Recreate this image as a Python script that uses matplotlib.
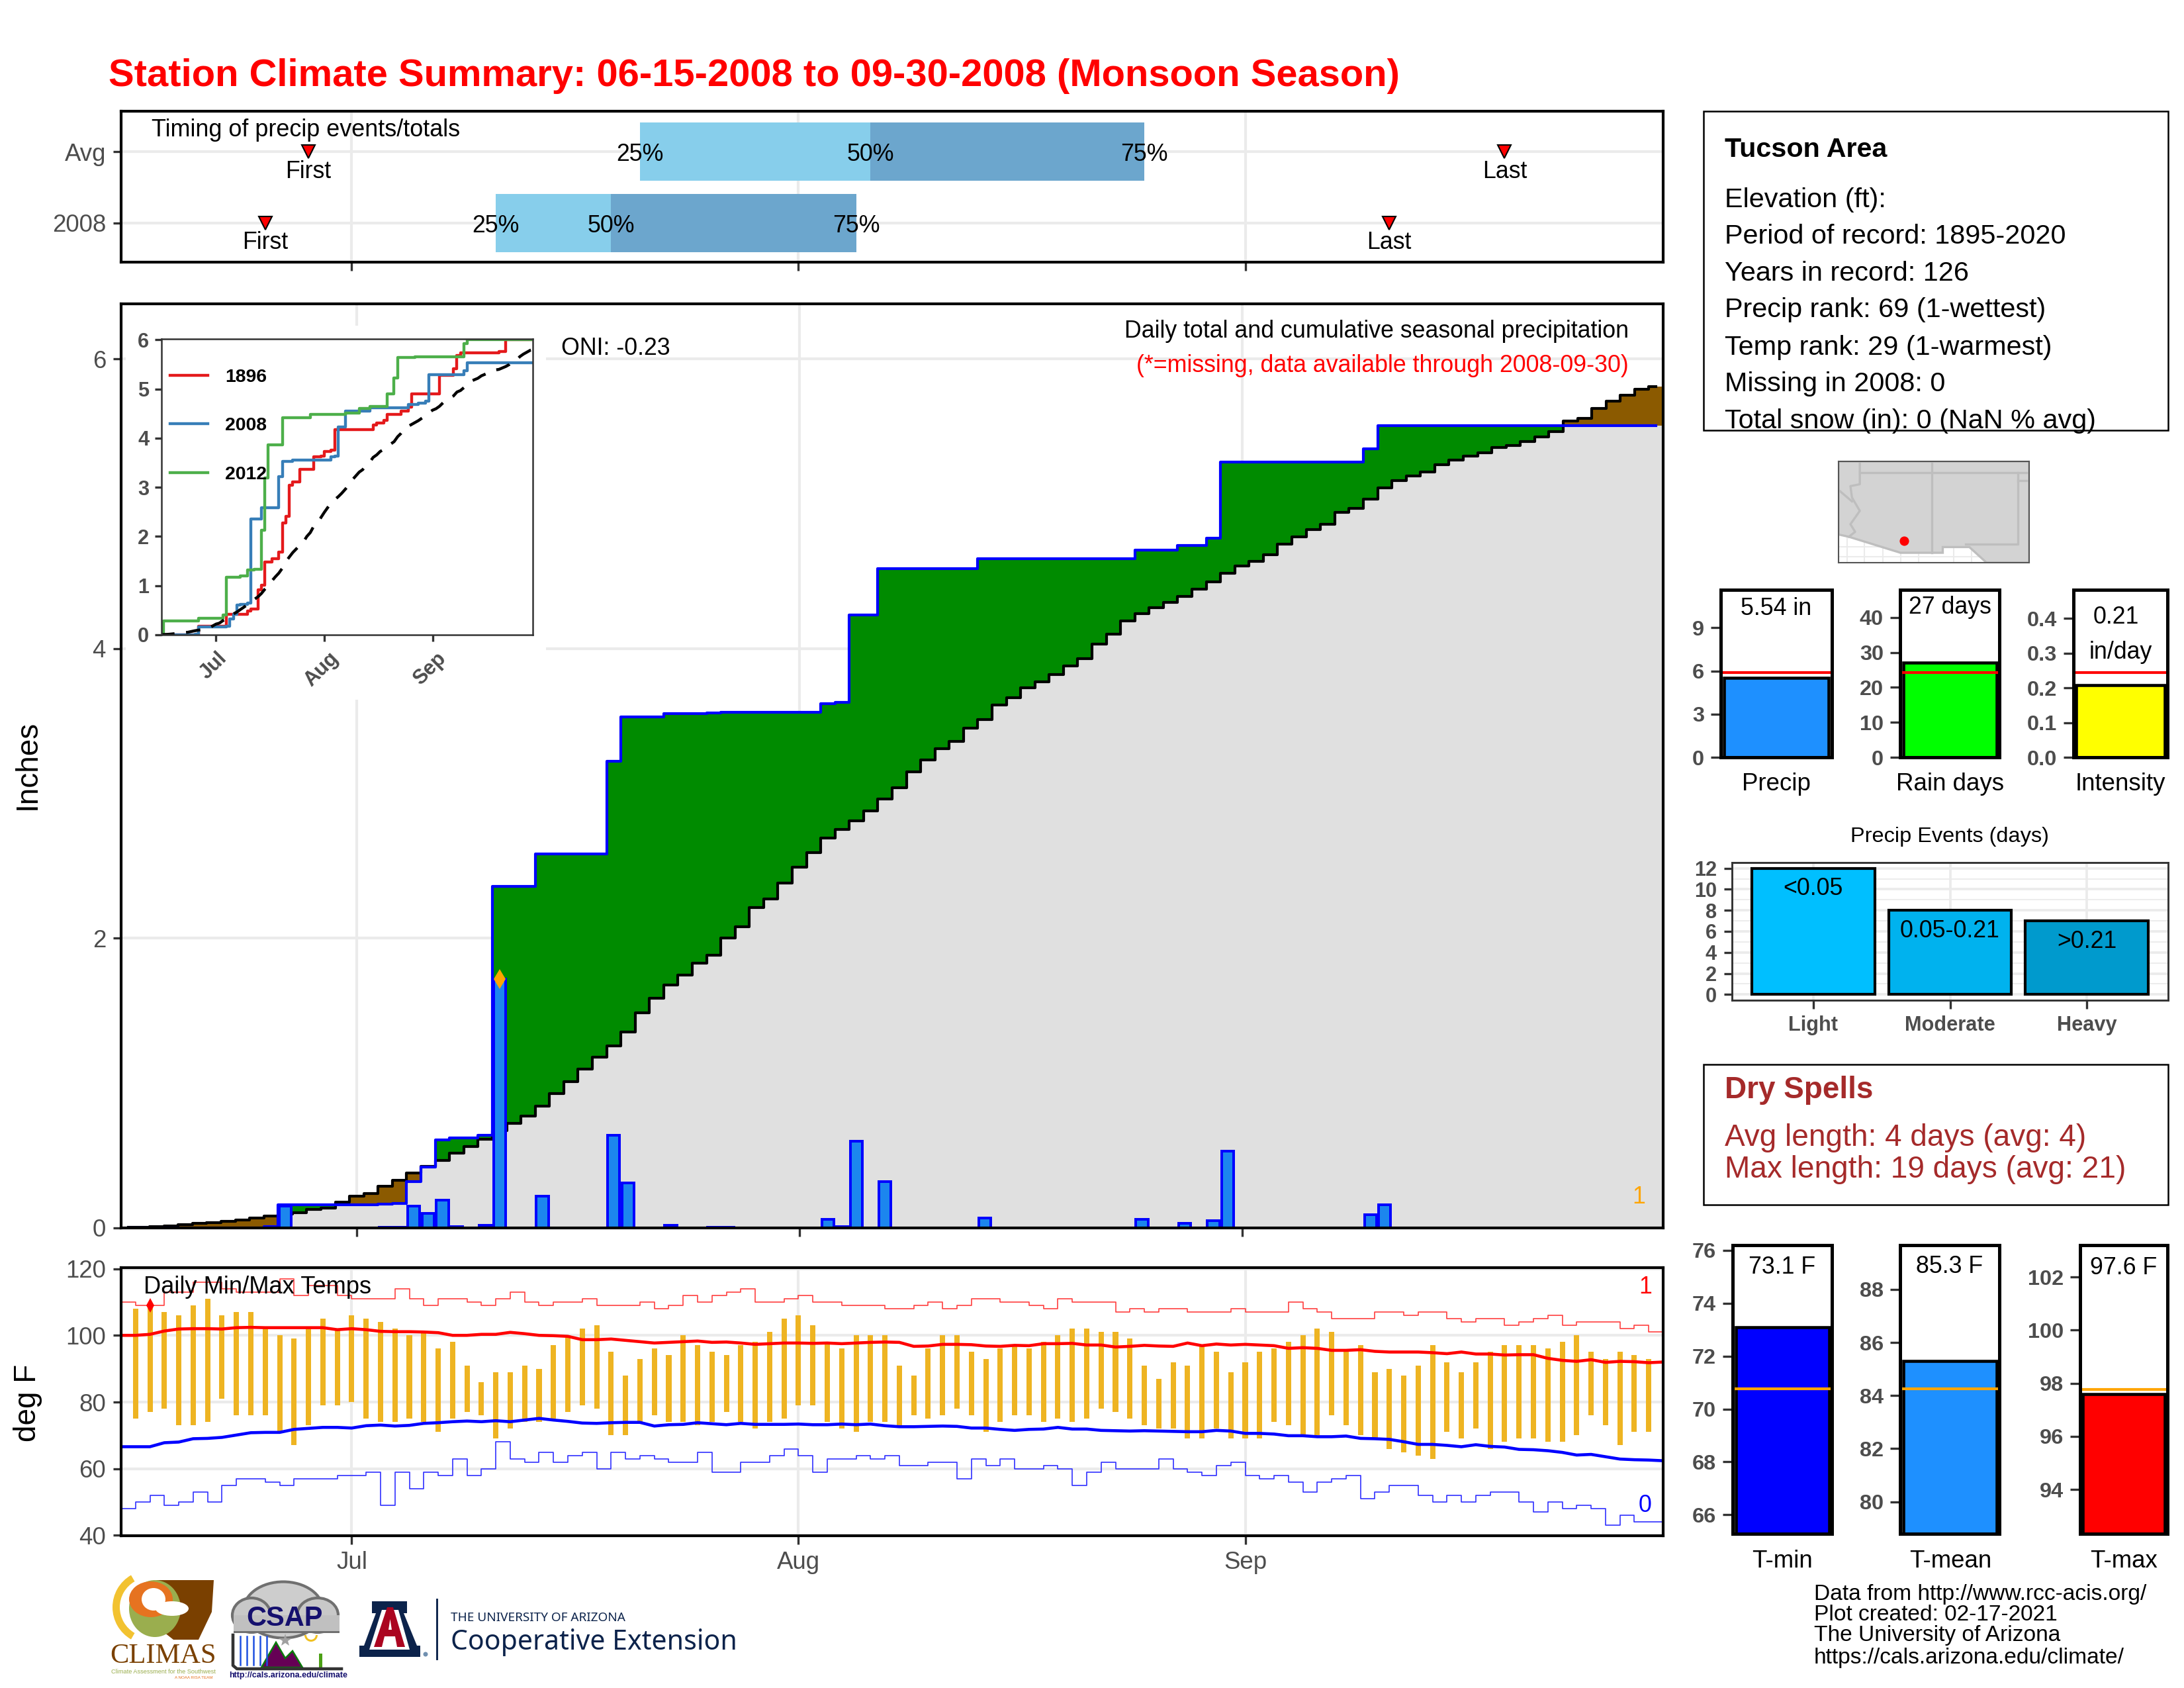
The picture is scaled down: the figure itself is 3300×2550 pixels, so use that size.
"""Station climate summary page, one figure with several small panels."""

import matplotlib
matplotlib.use("Agg")
import matplotlib.pyplot as plt
import numpy as np
from matplotlib.patches import Circle, Ellipse, Polygon, Rectangle, Wedge
from matplotlib.transforms import ScaledTranslation

plt.rcParams["font.family"] = ["Liberation Sans", "DejaVu Sans"]

W, H = 3300, 2550
GREY_TXT = "#4D4D4D"
GRID = "#EBEBEB"

# season days: 0 = Jun 15 ... 107 = Sep 30
days = np.arange(108)
month_days = [16, 47, 78]
month_labels = ["Jul", "Aug", "Sep"]

# timing bars (days into the season)
timing_labels = ["2008", "Avg"]
first_event = [10, 13]
last_event = [88, 96]
pct25 = [26, 36]
pct50 = [34, 52]
pct75 = [51, 71]

# 2008 daily precip (inches), only the wet days
wet_days = [10, 11, 18, 19, 20, 21, 22, 23, 25, 26, 29, 34, 35, 38, 41, 42, 49, 50,
            51, 53, 60, 71, 74, 76, 77, 87, 88]
wet_amounts = [0.01, 0.15, 0.005, 0.005, 0.15, 0.10, 0.19, 0.01, 0.02, 1.72, 0.22,
               0.64, 0.31, 0.02, 0.005, 0.005, 0.06, 0.01, 0.60, 0.32, 0.07, 0.06,
               0.03, 0.05, 0.53, 0.09, 0.16]

# long term average cumulative precip (inches)
avg_cum = [0.003, 0.006, 0.009, 0.015, 0.023, 0.03, 0.038, 0.046, 0.053, 0.069,
           0.084, 0.096, 0.104, 0.13, 0.137, 0.178, 0.218, 0.239, 0.289, 0.327,
           0.381, 0.426, 0.464, 0.515, 0.563, 0.614, 0.67, 0.723, 0.772, 0.84,
           0.929, 1.008, 1.096, 1.18, 1.256, 1.355, 1.485, 1.584, 1.675, 1.748,
           1.827, 1.885, 2.0, 2.08, 2.21, 2.27, 2.38, 2.49, 2.59, 2.69,
           2.75, 2.81, 2.88, 2.96, 3.04, 3.15, 3.23, 3.31, 3.36, 3.45,
           3.51, 3.61, 3.66, 3.73, 3.77, 3.82, 3.88, 3.93, 4.03, 4.10,
           4.19, 4.24, 4.28, 4.32, 4.36, 4.41, 4.46, 4.52, 4.57, 4.60,
           4.65, 4.72, 4.77, 4.82, 4.86, 4.94, 4.97, 5.03, 5.11, 5.16,
           5.19, 5.22, 5.27, 5.30, 5.33, 5.35, 5.39, 5.40, 5.43, 5.46,
           5.50, 5.57, 5.59, 5.66, 5.71, 5.75, 5.79, 5.81]

# inset: the other years, as (day of change, running total)
days_1896 = [0, 11, 19, 25, 26, 28, 29, 30, 32, 34, 35, 36, 37, 38, 40, 44, 46, 47, 49,
             50, 61, 62, 64, 65, 69, 71, 72, 80, 84, 85, 86, 97, 99, 107]
cum_1896 = [0.0, 0.18, 0.42, 0.49, 0.52, 0.92, 1.01, 1.48, 1.55, 1.68, 2.27, 2.41, 3.05,
            3.11, 3.37, 3.62, 3.64, 3.73, 3.76, 4.17, 4.27, 4.31, 4.37, 4.49, 4.55,
            4.63, 4.90, 5.28, 5.42, 5.69, 5.74, 5.77, 6.0, 6.0]
days_2012 = [0, 1, 11, 18, 19, 23, 25, 27, 29, 30, 31, 35, 43, 53, 57, 60, 65, 67, 68,
             73, 87, 88, 107]
cum_2012 = [0.0, 0.28, 0.33, 0.40, 1.17, 1.20, 1.32, 1.34, 2.13, 3.19, 3.86, 4.42, 4.48,
            4.51, 4.60, 4.65, 4.90, 5.22, 5.64, 5.65, 5.93, 6.0, 6.0]

# daily temperature bars, deg F, for days 1..106
tmax = [108, 109, 107, 106, 109, 111, 106, 107, 107, 102, 100, 99, 102, 105, 102, 106,
        105, 104, 102, 100, 101, 96, 98, 91, 86, 89, 89, 91, 90, 97, 100, 102, 103, 95,
        88, 93, 96, 94, 100, 97, 95, 94, 97, 98, 101, 105, 106, 103, 98, 96, 100, 100,
        100, 91, 88, 96, 100, 100, 95, 93, 96, 97, 96, 98, 100, 102, 102, 101, 101, 99,
        91, 87, 92, 91, 97, 95, 89, 92, 95, 96, 98, 100, 102, 101, 95, 97, 89, 90, 88,
        91, 97, 92, 89, 92, 95, 97, 97, 97, 96, 98, 100, 95, 93, 95, 94, 93]
tmin = [75, 77, 78, 73, 73, 74, 81, 76, 76, 76, 71, 67, 73, 79, 79, 80, 75, 74, 74, 75,
        74, 71, 75, 77, 76, 69, 72, 74, 74, 75, 77, 79, 78, 70, 70, 74, 76, 74, 74, 73,
        74, 77, 74, 72, 74, 75, 79, 79, 74, 72, 71, 74, 74, 73, 76, 75, 76, 78, 76, 71,
        74, 76, 76, 74, 75, 74, 75, 78, 77, 75, 73, 72, 72, 69, 69, 72, 69, 69, 69, 74,
        73, 70, 70, 76, 73, 70, 69, 66, 65, 64, 63, 71, 69, 72, 66, 68, 69, 69, 68, 68,
        70, 76, 73, 67, 71, 71]

normal_high = [100.0, 100.0, 100.3, 101.3, 101.9, 102.0, 102.0, 101.9, 102.3, 102.4,
               102.3, 102.3, 102.3, 102.3, 102.3, 101.7, 102.0, 101.7, 101.2, 101.1,
               101.1, 101.0, 100.8, 100.0, 100.0, 100.3, 100.3, 100.9, 100.5, 100.0,
               99.9, 99.7, 98.7, 98.7, 98.9, 98.5, 98.1, 97.7, 97.9, 98.1,
               98.3, 97.9, 98.0, 97.7, 97.3, 97.5, 97.7, 97.7, 97.6, 97.7,
               97.5, 97.7, 97.9, 98.0, 97.9, 96.7, 96.8, 97.3, 97.3, 97.2,
               96.8, 96.7, 97.0, 96.9, 97.5, 97.5, 97.6, 97.1, 97.1, 96.5,
               96.7, 97.0, 96.8, 96.7, 97.7, 96.9, 97.4, 97.1, 97.3, 97.1,
               96.9, 96.1, 96.3, 96.1, 95.5, 95.5, 95.7, 95.2, 95.0, 95.0,
               95.0, 94.8, 94.5, 95.0, 94.4, 94.4, 94.1, 94.2, 94.2, 93.1,
               92.5, 92.2, 92.7, 91.9, 92.2, 92.1, 91.8, 92.0]
normal_low = [66.6, 66.6, 66.6, 67.8, 68.0, 69.0, 69.1, 69.4, 70.1, 70.8,
              70.9, 70.9, 71.8, 72.1, 72.4, 72.4, 72.2, 72.9, 73.1, 72.8,
              73.0, 73.6, 73.8, 74.1, 74.3, 74.1, 74.4, 74.1, 74.6, 75.1,
              74.6, 74.2, 73.7, 73.6, 73.8, 73.9, 73.9, 72.8, 73.2, 73.3,
              73.8, 73.5, 73.2, 73.6, 73.3, 73.3, 73.3, 73.4, 73.2, 73.2,
              73.4, 73.2, 73.4, 72.9, 72.6, 72.6, 72.7, 72.8, 72.7, 72.2,
              72.2, 71.8, 71.5, 71.8, 71.9, 72.4, 71.9, 71.9, 71.5, 71.4,
              71.3, 71.4, 71.3, 71.2, 71.1, 71.1, 71.5, 71.3, 70.6, 70.6,
              70.4, 69.9, 69.9, 69.6, 69.6, 69.8, 69.1, 69.0, 68.8, 68.1,
              67.3, 67.3, 67.0, 66.6, 67.2, 66.7, 66.5, 65.8, 65.7, 65.4,
              64.9, 64.1, 64.3, 63.6, 62.9, 62.7, 62.6, 62.4]
record_high = [110, 109, 109, 113, 113, 116, 116, 114, 113, 113, 113, 117, 112, 115, 115,
               112, 111, 111, 111, 114, 111, 109, 111, 111, 110, 109, 111, 113, 110, 109,
               110, 110, 111, 109, 109, 109, 110, 108, 109, 112, 110, 112, 113, 114, 110,
               110, 111, 112, 110, 110, 109, 109, 109, 108, 108, 109, 110, 108, 109, 111,
               111, 110, 110, 109, 108, 111, 110, 110, 110, 107, 108, 107, 108, 108, 107,
               107, 107, 108, 107, 107, 107, 110, 108, 107, 105, 105, 105, 107, 107, 106,
               107, 107, 105, 104, 105, 105, 103, 104, 105, 106, 103, 104, 104, 104, 102,
               103, 101, 101]
record_low = [48, 50, 52, 49, 50, 53, 50, 55, 57, 57, 56, 55, 57, 57, 57, 58, 58, 59, 49,
              59, 54, 59, 58, 63, 58, 60, 68, 63, 62, 65, 62, 64, 65, 60, 65, 63, 64, 63,
              62, 62, 65, 59, 59, 62, 62, 64, 66, 64, 59, 63, 63, 64, 63, 64, 61, 61, 62,
              62, 57, 63, 61, 63, 60, 60, 61, 60, 55, 59, 62, 60, 60, 60, 63, 60, 59, 58,
              61, 62, 58, 57, 58, 56, 53, 56, 57, 58, 51, 53, 55, 55, 52, 50, 52, 50, 52,
              53, 53, 50, 47, 50, 48, 49, 48, 43, 46, 44, 44, 44]

# gauge panels: value, seasonal average
precip_val, precip_avg = 5.54, 5.9
raindays_val, raindays_avg = 27, 24.3
intensity_val, intensity_avg = 0.207, 0.243
tmin_val, tmin_avg = 73.1, 70.76
tmean_val, tmean_avg = 85.3, 84.25
tmaxg_val, tmaxg_avg = 97.6, 97.76

event_labels = ["Light", "Moderate", "Heavy"]
event_counts = [12, 8, 7]
event_ranges = ["<0.05", "0.05-0.21", ">0.21"]
event_colors = ["#00BFFF", "#00B2EE", "#009ACD"]

info_lines = ["Elevation (ft):", "Period of record: 1895-2020", "Years in record: 126",
              "Precip rank: 69 (1-wettest)", "Temp rank: 29 (1-warmest)",
              "Missing in 2008: 0", "Total snow (in): 0 (NaN % avg)"]
footer_lines = ["Data from http://www.rcc-acis.org/", "Plot created: 02-17-2021",
                "The University of Arizona", "https://cals.arizona.edu/climate/"]


def panel(left, top, right, bottom, **kwargs):
    """Add axes from a box given in image pixels (y down)."""
    return fig.add_axes([left / W, 1 - bottom / H, (right - left) / W, (bottom - top) / H],
                        **kwargs)


def style_ticks(ax, size=9, bold=False, length=3, pad=2.5):
    ax.tick_params(colors="#333333", labelcolor=GREY_TXT, labelsize=size, length=length,
                   width=0.8, pad=pad)
    if bold:
        for lab in ax.get_xticklabels() + ax.get_yticklabels():
            lab.set_fontweight("bold")


def month_axis(ax, labels=False):
    ax.set_xticks(month_days)
    ax.set_xticklabels(month_labels if labels else [])


def frame(ax, lw=1.0, color="black"):
    for sp in ax.spines.values():
        sp.set_linewidth(lw)
        sp.set_color(color)
        sp.set_zorder(20)


def gauge(box, value, avg, ylim, yticks, fill, avg_color, fmt=None):
    ax = panel(*box)
    ax.bar([0], [value - ylim[0]], bottom=ylim[0], width=0.94, color=fill, edgecolor="black",
           linewidth=1.1, zorder=2)
    ax.axhline(avg, color=avg_color, lw=1.0, zorder=3)
    ax.set_xlim(-0.5, 0.5)
    ax.set_ylim(*ylim)
    ax.set_xticks([])
    ax.set_yticks(yticks)
    if fmt:
        ax.set_yticklabels([fmt % t for t in yticks])
    style_ticks(ax, size=7.8, bold=True, length=3.5)
    frame(ax, lw=1.2)
    return ax


fig = plt.figure(figsize=(11, 8.5), dpi=300, facecolor="white")

# overlay in image pixels for page text, boxes and logos
page = fig.add_axes([0, 0, 1, 1], zorder=10)
page.set_xlim(0, W)
page.set_ylim(H, 0)
page.axis("off")


def txt(x, y, s, size=8.5, color="black", ha="left", va="center", **kwargs):
    page.text(x, y + 3, s, fontsize=size, color=color, ha=ha, va=va, **kwargs)


txt(164, 112, "Station Climate Summary: 06-15-2008 to 09-30-2008 (Monsoon Season)",
    size=13.9, color="red", fontweight="bold")

# ---- timing of precip events
ax_t = panel(183, 168, 2513, 396)
ax_t.grid(True, color=GRID, lw=1.0)
ax_t.set_axisbelow(True)
for i in range(2):
    ax_t.barh(i + 1, pct50[i] - pct25[i], left=pct25[i], height=0.82, color="#87CEEB", zorder=2)
    ax_t.barh(i + 1, pct75[i] - pct50[i], left=pct50[i], height=0.82, color="#6CA6CD", zorder=2)
    for pos, lab in zip((pct25[i], pct50[i], pct75[i]), ("25%", "50%", "75%")):
        ax_t.text(pos, i + 0.96, lab, fontsize=8.6, ha="center", va="center", zorder=3)
    ax_t.plot([first_event[i], last_event[i]], [i + 1, i + 1], ls="none", marker="v", ms=4.6,
              mfc="red", mec="black", mew=0.5, zorder=3)
    ax_t.text(first_event[i], i + 0.72, "First", fontsize=8.6, ha="center", va="center", zorder=3)
    ax_t.text(last_event[i], i + 0.72, "Last", fontsize=8.6, ha="center", va="center", zorder=3)
ax_t.set_xlim(0, 107)
ax_t.set_ylim(0.45, 2.57)
ax_t.set_yticks([1, 2])
ax_t.set_yticklabels(timing_labels)
month_axis(ax_t)
style_ticks(ax_t, size=8.8)
frame(ax_t)
txt(229, 193, "Timing of precip events/totals", size=8.65)

# ---- daily and cumulative precip
precip_2008 = np.zeros(108)
precip_2008[wet_days] = wet_amounts
cum_2008 = np.cumsum(precip_2008)
avg_arr = np.array(avg_cum)
upper = np.maximum(avg_arr, cum_2008)
lower = np.minimum(avg_arr, cum_2008)
edges = np.append(days - 0.5, 107.5)


def ribbon(ax, lo, hi, color):
    ax.fill_between(edges, np.append(lo, lo[-1]), np.append(hi, hi[-1]), step="post", color=color,
                    lw=0, zorder=2)


ax_p = panel(183, 459, 2513, 1855)
ax_p.grid(True, color=GRID, lw=1.0, zorder=0)
ax_p.set_axisbelow(True)
ribbon(ax_p, np.zeros(108), lower, "#E0E0E0")
ribbon(ax_p, avg_arr, upper, "#008B00")
ribbon(ax_p, cum_2008, upper, "#8B5A00")
ax_p.step(days, avg_arr, where="mid", color="black", lw=1.0, zorder=3)
ax_p.step(days, cum_2008, where="mid", color="blue", lw=1.0, zorder=4)
ax_p.bar(wet_days, wet_amounts, width=0.85, color="#1C86EE", edgecolor="blue", lw=0.95, zorder=5)
ax_p.plot([26], [1.72], marker="d", ms=5, color="orange", mew=0, zorder=6)
ax_p.set_xlim(-0.5, 107.5)
ax_p.set_ylim(0, 6.38)
ax_p.set_yticks([0, 2, 4, 6])
month_axis(ax_p)
style_ticks(ax_p, size=8.8)
frame(ax_p)
# white block behind the inset hides the grid
ax_p.add_patch(Rectangle((190, 492), 635, 565, transform=page.transData, fc="white", ec="none",
                         zorder=1))
txt(42, 1152, "Inches", size=11, rotation=90, ha="center")
txt(848, 524, "ONI: -0.23", size=8.6)
txt(2461, 497, "Daily total and cumulative seasonal precipitation", size=8.6, ha="right")
txt(2461, 550, "(*=missing, data available through 2008-09-30)", size=8.6, color="red", ha="right")
txt(2476, 1806, "1", size=8.6, color="orange", ha="center")

# ---- inset: wet years against this one
ax_i = panel(244, 512, 805, 959, zorder=5)
ax_i.step(days_1896, cum_1896, where="post", color="#E41A1C", lw=1.05, label="1896")
ax_i.step(days, cum_2008, where="post", color="#377EB8", lw=1.05, label="2008")
ax_i.step(days_2012, cum_2012, where="post", color="#4DAF4A", lw=1.05, label="2012")
ax_i.plot(days, avg_arr, color="black", lw=1.05, dashes=(5, 4))
ax_i.set_xlim(0.4, 106.7)
ax_i.set_ylim(0, 6.02)
ax_i.set_yticks(range(7))
ax_i.set_xticks(month_days)
ax_i.set_xticklabels(month_labels, rotation=45, ha="center")
style_ticks(ax_i, size=7.4, bold=True, length=2.5, pad=2)
nudge = ScaledTranslation(-1.0 / 72, -0.5 / 72, fig.dpi_scale_trans)
for lab in ax_i.get_xticklabels():
    lab.set_transform(lab.get_transform() + nudge)
frame(ax_i, lw=0.6, color="#333333")
leg = ax_i.legend(frameon=False, loc="upper left", bbox_to_anchor=(0.023, 0.90), fontsize=6.8,
                  handlelength=2.0, labelspacing=1.68, handletextpad=0.95, borderpad=0,
                  borderaxespad=0)
for lab in leg.get_texts():
    lab.set_fontweight("bold")

# ---- temperatures
temp_days = days[1:107]
ax_c = panel(183, 1915, 2513, 2320)
ax_c.grid(True, color=GRID, lw=1.0, zorder=0)
ax_c.set_axisbelow(True)
ax_c.step(days, record_high, where="post", color="#FF4040", lw=0.4, zorder=2)
ax_c.step(days, record_low, where="post", color="#3030FF", lw=0.4, zorder=2)
ax_c.bar(temp_days, np.array(tmax) - np.array(tmin), bottom=tmin, width=0.37, color="#EEB422",
         lw=0, zorder=3)
ax_c.plot(days, normal_high, color="red", lw=1.1, zorder=4)
ax_c.plot(days, normal_low, color="blue", lw=1.1, zorder=4)
ax_c.plot([2], [109], marker="d", ms=3.6, color="red", mew=0, zorder=5)
ax_c.set_xlim(0, 107)
ax_c.set_ylim(39.9, 120.3)
ax_c.set_yticks([40, 60, 80, 100, 120])
month_axis(ax_c, labels=True)
style_ticks(ax_c, size=8.8)
frame(ax_c)
txt(42, 2116, "deg F", size=11, rotation=90, ha="center")
txt(217, 1941, "Daily Min/Max Temps", size=8.7)
txt(2486, 1941, "1", size=8.6, color="red", ha="center")
txt(2486, 2272, "0", size=8.6, color="blue", ha="center")

# ---- info box
page.add_patch(Rectangle((2574, 168), 702, 482, fc="none", ec="black", lw=0.6))
txt(2606, 223, "Tucson Area", size=9.9, fontweight="bold")
for yy, line in zip((299, 354, 410, 465, 522, 577, 633), info_lines):
    txt(2606, yy, line, size=9.95)

# ---- location map, in its own little pixel frame
ax_m = panel(2778, 697, 3066, 850)
ax_m.set_xlim(462, 1071)
ax_m.set_ylim(296, 30)
ax_m.set_xticks([])
ax_m.set_yticks([])
for gx in (490, 545, 603, 660, 717, 830, 887):
    ax_m.axvline(gx, color=GRID, lw=0.5, zorder=1)
for gy in (255, 280):
    ax_m.axhline(gy, color=GRID, lw=0.5, zorder=1)
ax_m.add_patch(Polygon([(462, 30), (1071, 30), (1071, 296), (935, 296), (880, 255), (795, 255),
                        (795, 270), (660, 270), (495, 228), (462, 222)],
                       fc="#D3D3D3", ec="#BEBEBE", lw=0.8, zorder=2))
border = dict(color="#BEBEBE", lw=0.8, zorder=3)
ax_m.plot([530, 530, 500, 505, 530, 500, 515, 495], [30, 90, 95, 125, 160, 195, 215, 228], **border)
ax_m.plot([462, 505], [105, 135], **border)
ax_m.plot([530, 1071], [60, 60], **border)
ax_m.plot([760, 760], [30, 270], **border)
ax_m.plot([1035, 1035, 868], [60, 248, 248], **border)
ax_m.plot([1035, 1071], [80, 80], **border)
ax_m.plot([672], [239], marker="o", ms=3.4, color="red", mew=0, zorder=4)
frame(ax_m, lw=0.5, color="#555555")

# ---- precip gauges
ax_g = gauge((2600, 891, 2768, 1144), precip_val, precip_avg, (0, 11.64), [0, 3, 6, 9],
             "#1E90FF", "red")
ax_g.text(0, 10.35, "5.54 in", fontsize=8.6, ha="center", va="center")
ax_g = gauge((2871, 891, 3021, 1144), raindays_val, raindays_avg, (0, 47.9), [0, 10, 20, 30, 40],
             "#00FF00", "red")
ax_g.text(0, 42.8, "27 days", fontsize=8.6, ha="center", va="center")
ax_g = gauge((3133, 891, 3275, 1144), intensity_val, intensity_avg, (0, 0.482),
             [0, 0.1, 0.2, 0.3, 0.4], "#FFFF00", "red", fmt="%.1f")
ax_g.text(-0.05, 0.402, "0.21", fontsize=8.6, ha="center", va="center")
ax_g.text(0, 0.302, "in/day", fontsize=8.6, ha="center", va="center")
txt(2684, 1181, "Precip", size=8.8, ha="center")
txt(2947, 1181, "Rain days", size=8.8, ha="center")
txt(3204, 1181, "Intensity", size=8.8, ha="center")

# ---- precip events
txt(2946, 1261, "Precip Events (days)", size=7.8, ha="center")
ax_e = panel(2617, 1303, 3276, 1511)
ax_e.set_yticks(range(1, 13, 2), minor=True)
ax_e.grid(True, which="major", color=GRID, lw=0.9, zorder=0)
ax_e.grid(True, which="minor", axis="y", color=GRID, lw=0.45, zorder=0)
ax_e.set_axisbelow(True)
ax_e.bar([1, 2, 3], event_counts, width=0.9, color=event_colors, edgecolor="black", lw=1.0, zorder=2)
for xpos, count, rng in zip([1, 2, 3], event_counts, event_ranges):
    ax_e.text(xpos, count - 1.95, rng, fontsize=8.6, ha="center", va="center", zorder=3)
ax_e.set_xlim(0.405, 3.595)
ax_e.set_ylim(-0.55, 12.55)
ax_e.set_xticks([1, 2, 3])
ax_e.set_xticklabels(event_labels)
ax_e.set_yticks(range(0, 13, 2))
style_ticks(ax_e, size=7.4, bold=True, length=3)
ax_e.tick_params(which="minor", length=0)
frame(ax_e, lw=0.7, color="#333333")

# ---- dry spells
page.add_patch(Rectangle((2574, 1608), 702, 212, fc="none", ec="black", lw=0.6))
txt(2606, 1644, "Dry Spells", size=11, color="#A52A2A", fontweight="bold")
txt(2606, 1716, "Avg length: 4 days (avg: 4)", size=11.05, color="#A52A2A")
txt(2606, 1764, "Max length: 19 days (avg: 21)", size=11.05, color="#A52A2A")

# ---- temperature gauges
ax_g = gauge((2618, 1881, 2768, 2317), tmin_val, tmin_avg, (65.28, 76.2), [66, 68, 70, 72, 74, 76],
             "#0000FF", "orange")
ax_g.text(0, 75.35, "73.1 F", fontsize=8.6, ha="center", va="center")
ax_g = gauge((2871, 1881, 3021, 2317), tmean_val, tmean_avg, (78.79, 89.67), [80, 82, 84, 86, 88],
             "#1E90FF", "orange")
ax_g.text(0, 88.85, "85.3 F", fontsize=8.6, ha="center", va="center")
ax_g = gauge((3143, 1881, 3275, 2317), tmaxg_val, tmaxg_avg, (92.33, 103.2), [94, 96, 98, 100, 102],
             "#FF0000", "orange")
ax_g.text(0, 102.35, "97.6 F", fontsize=8.6, ha="center", va="center")
txt(2693, 2356, "T-min", size=8.8, ha="center")
txt(2947, 2356, "T-mean", size=8.8, ha="center")
txt(3209, 2356, "T-max", size=8.8, ha="center")
for yy, line in zip((2406, 2437, 2468, 2501), footer_lines):
    txt(2741, yy, line, size=8.05)

# ---- logos, rough redraw
brown, olive, orange_c = "#7A4000", "#9AAE4E", "#E67320"
page.add_patch(Polygon([(236, 2387), (323, 2387), (320, 2435), (300, 2477), (262, 2477), (234, 2455)],
                       fc=brown, ec="none"))
page.add_patch(Ellipse((234, 2430), 78, 86, fc=olive, ec="none"))
page.add_patch(Wedge((226, 2428), 56, 120, 240, width=11, fc="#F2C230", ec="none"))
page.add_patch(Ellipse((228, 2416), 66, 54, fc=orange_c, ec="none"))
page.add_patch(Ellipse((232, 2416), 36, 34, fc="white", ec="none"))
page.add_patch(Ellipse((260, 2430), 50, 22, fc="white", ec="none"))
txt(247, 2499, "CLIMAS", size=10.2, color=brown, ha="center", family="Liberation Serif")
txt(247, 2522, "Climate Assessment for the Southwest", size=2.2, color=olive, ha="center")
txt(293, 2531, "A NOAA RISA TEAM", size=1.5, color=orange_c, ha="center")

page.add_patch(Ellipse((428, 2432), 120, 85, fc="#CDCDCD", ec="#707070", lw=1.0))
page.add_patch(Ellipse((380, 2440), 58, 52, fc="#C8C8C8", ec="#707070", lw=1.0))
page.add_patch(Ellipse((480, 2440), 62, 52, fc="#C8C8C8", ec="#707070", lw=1.0))
page.add_patch(Rectangle((353, 2440), 160, 26, fc="#C0C0C0", ec="none"))
page.add_patch(Rectangle((353, 2464), 160, 3, fc="#707070", ec="none"))
txt(430, 2442, "CSAP", size=10, color="#15106E", ha="center", fontweight="bold")
for rx in (363, 373, 383, 393, 403):
    page.plot([rx, rx], [2472, 2515], color="#1E50E0", lw=0.6)
page.plot([352, 352, 358, 516], [2470, 2516, 2521, 2521], color="#333333", lw=1.1)
page.add_patch(Polygon([(395, 2519), (417, 2481), (431, 2505), (442, 2494), (457, 2519)],
                       fc="#660055", ec="#0A7A0A", lw=0.6))
page.add_patch(Rectangle((482, 2498), 5, 21, fc="#4CA016", ec="none"))
page.plot([431], [2478], marker="*", ms=5, color="#A0A0A0", mew=0)
page.add_patch(Wedge((470, 2470), 10, 0, 180, width=3, fc="#F0C020", ec="none"))
txt(436, 2528, "http://cals.arizona.edu/climate", size=3.0, color="#15106E", ha="center",
    fontweight="bold")

navy, ua_red = "#0C234B", "#AB0520"
page.add_patch(Polygon([(562, 2419), (615, 2419), (615, 2437), (610, 2437), (630, 2486), (635, 2486),
                        (635, 2503), (543, 2503), (543, 2486), (550, 2486), (568, 2437), (562, 2437)],
                       fc=navy, ec="none"))
page.add_patch(Polygon([(577, 2432), (602, 2432), (619, 2492), (558, 2492)], fc="white", ec="none"))
page.add_patch(Polygon([(585, 2428), (594, 2428), (612, 2488), (600, 2488), (597, 2472), (581, 2472),
                        (577, 2488), (565, 2488)], fc=ua_red, ec="none"))
page.add_patch(Polygon([(587, 2462), (589.5, 2446), (592, 2462)], fc="white", ec="none"))
page.add_patch(Circle((643, 2499), 3.5, fc="#7090B0", ec="none"))
page.plot([660, 660], [2416, 2506], color=navy, lw=0.7)
txt(681, 2441, "THE UNIVERSITY OF ARIZONA", size=4.55, color=navy, family="Noto Sans")
txt(681, 2478, "Cooperative Extension", size=9.85, color=navy, family="Noto Sans")

fig.savefig("out.png", dpi=300)
